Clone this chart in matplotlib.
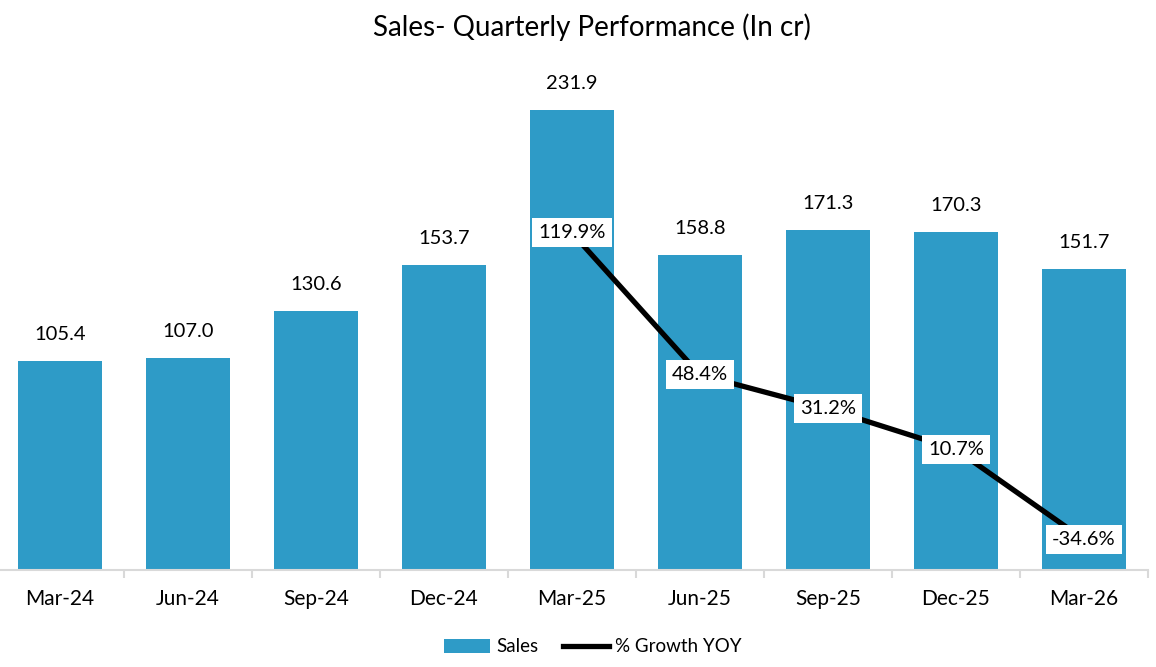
import matplotlib.pyplot as plt
import numpy as np
from matplotlib.lines import Line2D
from matplotlib.patches import Patch

plt.rcParams['font.family'] = ['Lato', 'DejaVu Sans']

quarters = ["Mar-24", "Jun-24", "Sep-24", "Dec-24", "Mar-25", "Jun-25", "Sep-25", "Dec-25", "Mar-26"]
sales = [105.4, 107.0, 130.6, 153.7, 231.9, 158.8, 171.3, 170.3, 151.7]
growth_idx = [4, 5, 6, 7, 8]
growth = [119.9, 48.4, 31.2, 10.7, -34.6]

bar_color = "#2E9BC7"
grid_gray = "#D9D9D9"

fig = plt.figure(figsize=(11.56, 6.67), dpi=100)
ax = fig.add_axes([-0.0035, 97 / 667, 1152 / 1156, 496 / 667])
x = np.arange(len(quarters))

ax.bar(x, sales, width=0.66, color=bar_color, zorder=2)
for xi, v in zip(x, sales):
    ax.annotate("%.1f" % v, (xi, v), xytext=(0, 19), textcoords="offset points",
                ha="center", va="center", fontsize=14.5, color="black")

ax.set_xlim(-0.5, len(quarters) - 0.5)
ax.set_ylim(0, 250)
ax.set_yticks([])
for s in ["top", "left", "right"]:
    ax.spines[s].set_visible(False)
ax.spines["bottom"].set_color(grid_gray)
ax.spines["bottom"].set_linewidth(1.5)
ax.set_xticks(x)
ax.set_xticklabels(quarters, fontsize=15)
ax.tick_params(axis="x", length=0, pad=14)
# separators between categories
ax.set_xticks(np.arange(-0.5, len(quarters), 1), minor=True)
ax.tick_params(axis="x", which="minor", length=6, width=1.5, color=grid_gray, direction="out")

ax2 = ax.twinx()
ax2.set_ylim(-50, 200)
ax2.set_yticks([])
for s in ax2.spines.values():
    s.set_visible(False)
ax2.plot(growth_idx, growth, color="black", linewidth=3.8, zorder=3, solid_capstyle="butt")
for xi, g in zip(growth_idx, growth):
    ax2.text(xi, g, "%.1f%%" % g, ha="center", va="center", fontsize=14.5, color="black", zorder=4,
             bbox=dict(boxstyle="square,pad=0.3", facecolor="white", edgecolor="none"))

fig.text(592 / 1156, 1 - 27 / 667, "Sales- Quarterly Performance (In cr)", ha="center", va="center", fontsize=20)

handles = [Patch(facecolor=bar_color, label="Sales"),
           Line2D([0], [0], color="black", linewidth=3.8, label="% Growth YOY")]
fig.legend(handles=handles, loc="center", bbox_to_anchor=(593 / 1156, 1 - 647 / 667), ncol=2, frameon=False,
           fontsize=13.5, handlelength=2.45, handleheight=0.8, columnspacing=1.3, handletextpad=0.35)

fig.savefig("out.png", dpi=100)
